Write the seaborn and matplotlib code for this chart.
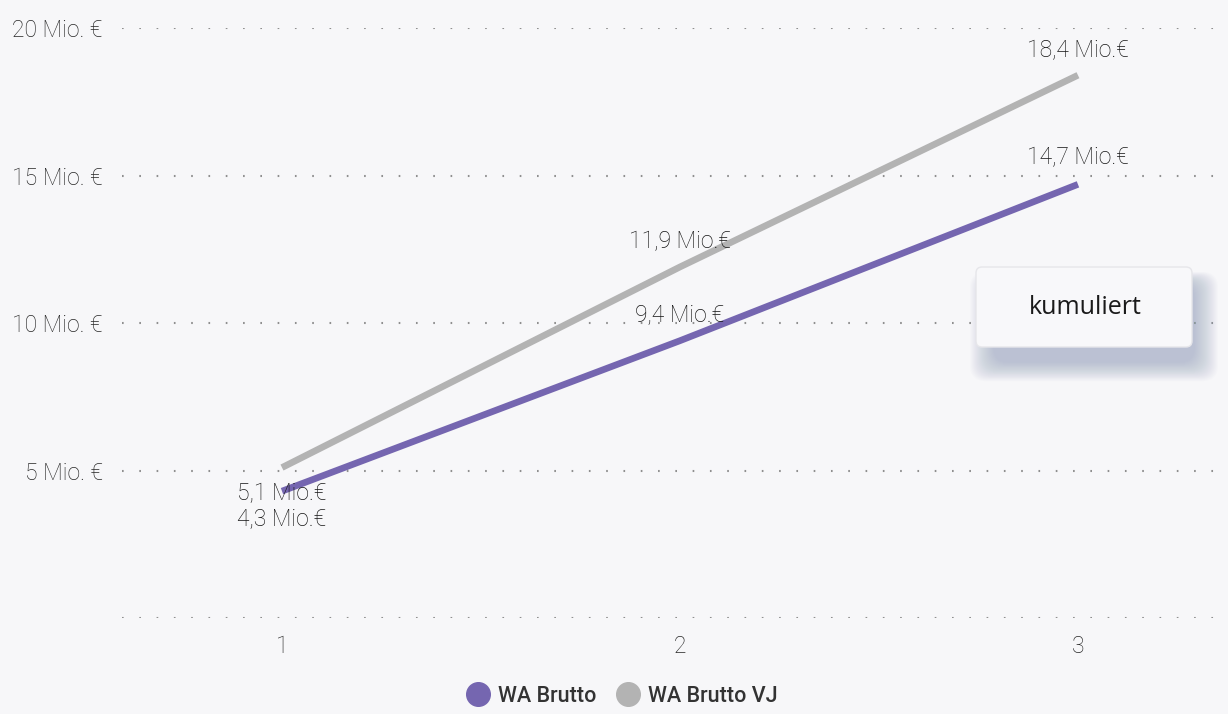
import numpy as np
import pandas as pd
import seaborn as sns
import matplotlib.pyplot as plt
from matplotlib.patches import FancyBboxPatch
from matplotlib.lines import Line2D

# data
months = [1, 2, 3]
wa_brutto = [4.3, 9.4, 14.7]
wa_brutto_vj = [5.1, 11.9, 18.4]
series_names = ["WA Brutto", "WA Brutto VJ"]
y_ticks = [0, 5, 10, 15, 20]
y_tick_labels = ["", "5 Mio. €", "10 Mio. €", "15 Mio. €", "20 Mio. €"]

colors = {"WA Brutto": "#7566b0", "WA Brutto VJ": "#b3b3b3"}
bg = "#f7f7f9"
txt = "#141414"

df = pd.DataFrame({
    "Monat": months * 2,
    "Wert": wa_brutto + wa_brutto_vj,
    "Serie": [series_names[0]] * 3 + [series_names[1]] * 3,
})

sns.set_theme(style="white")
plt.rcParams["font.family"] = ["Roboto", "DejaVu Sans"]

W, H = 1228, 714
fig = plt.figure(figsize=(W / 100, H / 100), dpi=100, facecolor=bg)
ax = fig.add_axes([122 / W, 1 - 618 / H, 1 - 122 / W, (618 - 28) / H])
ax.set_facecolor(bg)

# dotted gridlines
for y in y_ticks:
    ax.axhline(y, color="#8f8f8f", lw=1.5, ls=(0, (0.8, 7.5)), zorder=0)

sns.lineplot(data=df, x="Monat", y="Wert", hue="Serie", palette=colors,
             hue_order=series_names[::-1], lw=4.8, ax=ax, legend=False,
             clip_on=False, solid_capstyle="butt")

ax.set_xlim(0.598, 3.377)
ax.set_ylim(0, 20)
ax.set_xticks(months)
ax.set_xticklabels([str(m) for m in months])
ax.set_yticks(y_ticks)
ax.set_yticklabels(y_tick_labels)
ax.tick_params(axis="both", length=0, labelsize=16.5, labelcolor="#262626")
ax.tick_params(axis="y", pad=14)
ax.tick_params(axis="x", pad=12)
for lab in ax.get_xticklabels() + ax.get_yticklabels():
    lab.set_fontweight("light")
for s in ax.spines.values():
    s.set_visible(False)
ax.set_xlabel("")
ax.set_ylabel("")


def fmt(v):
    return f"{v:.1f}".replace(".", ",") + " Mio.€"


# data labels: below the points at month 1, above elsewhere
label_kw = dict(textcoords="offset points", ha="center", va="center",
                fontsize=16.5, fontweight="light", color=txt)
for i, m in enumerate(months):
    dy_vj, dy_wa = (-19, -20) if i == 0 else (18, 19)
    ax.annotate(fmt(wa_brutto_vj[i]), (m, wa_brutto_vj[i]), xytext=(0, dy_vj), **label_kw)
    ax.annotate(fmt(wa_brutto[i]), (m, wa_brutto[i]), xytext=(0, dy_wa), **label_kw)

# overlay for the "kumuliert" button (pixel coordinates)
ov = fig.add_axes([0, 0, 1, 1], facecolor="none")
ov.set_xlim(0, W)
ov.set_ylim(H, 0)
ov.axis("off")
for k in range(24, 0, -1):
    ov.add_patch(FancyBboxPatch((994 - k, 284 - k * 0.5), 200 + 2 * k, 78 + k * 1.3,
                                boxstyle="round,pad=0,rounding_size=16",
                                fc="#8c9dba", ec="none", alpha=0.028))
ov.add_patch(FancyBboxPatch((976, 267), 216, 80,
                            boxstyle="round,pad=0,rounding_size=6",
                            fc="#f8f8fa", ec="#e6e6ea", lw=1))
ov.text(1085, 307, "kumuliert", ha="center", va="center", fontsize=18,
        color="#1a1a1a", family=["Open Sans", "DejaVu Sans"])

# legend
handles = [Line2D([], [], ls="none", marker="o", ms=17, mfc=colors[n], mec=colors[n])
           for n in series_names]
fig.legend(handles, series_names, loc="center", bbox_to_anchor=(617 / W, 1 - 696 / H),
           ncol=2, frameon=False, handletextpad=-0.1, columnspacing=0.5,
           prop={"family": ["Roboto", "DejaVu Sans"], "weight": "medium", "size": 15.5},
           labelcolor="#333333")

fig.savefig("out.png", dpi=100, facecolor=bg)
